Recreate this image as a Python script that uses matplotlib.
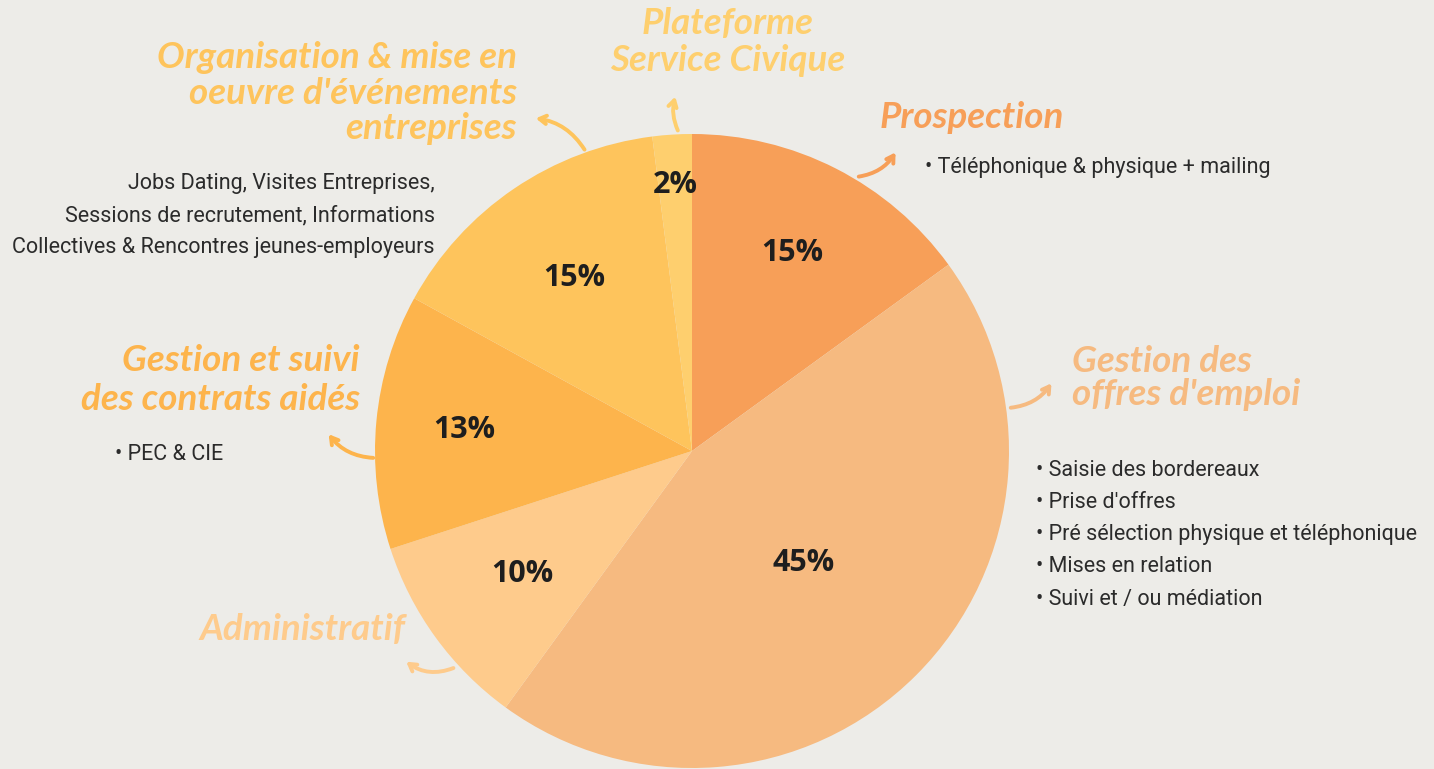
import numpy as np
import matplotlib.pyplot as plt

W, H = 1434, 769

# slices clockwise from 12 o'clock
labels = ['Prospection', "Gestion des offres d'emploi", 'Administratif',
          'Gestion et suivi des contrats aidés',
          "Organisation & mise en oeuvre d'événements entreprises",
          'Plateforme Service Civique']
values = [15, 45, 10, 13, 15, 2]
colors = ['#F79F58', '#F6BA80', '#FECB8C', '#FDB44C', '#FEC45C', '#FECF6E']
pct_dist = [0.70, 0.50, 0.66, 0.72, 0.66, 0.84]

offres_items = ['Saisie des bordereaux', "Prise d'offres",
                'Pré sélection physique et téléphonique',
                'Mises en relation', 'Suivi et / ou médiation']
events_text = ['Jobs Dating, Visites Entreprises,',
               'Sessions de recrutement, Informations',
               'Collectives & Rencontres jeunes-employeurs']

bg = '#EDECE8'
ink = '#2B2B2B'
script = dict(family='Lato', style='italic', weight='bold', fontsize=26.5)
body = dict(family='Roboto', fontsize=15.5, color=ink)


def Y(p):
    return H - p


fig = plt.figure(figsize=(W / 100, H / 100), dpi=100, facecolor=bg)
ax = fig.add_axes([0, 0, 1, 1])
ax.set_facecolor(bg)

cx, cy, r = 692, Y(451), 317
wedges, _ = ax.pie(values, colors=colors, startangle=90, counterclock=False,
                   center=(cx, cy), radius=r, wedgeprops=dict(linewidth=0))

for w, v, d in zip(wedges, values, pct_dist):
    a = np.deg2rad((w.theta1 + w.theta2) / 2)
    ax.text(cx + d * r * np.cos(a), cy + d * r * np.sin(a), f'{v}%',
            ha='center', va='center', fontsize=22, weight='bold',
            family='Open Sans', color='#1E1E1E')

ax.set_xlim(0, W)
ax.set_ylim(0, H)
ax.set_aspect('equal')
ax.axis('off')


def arrow(p0, p1, color, rad):
    ax.annotate('', xy=(p1[0], Y(p1[1])), xytext=(p0[0], Y(p0[1])),
                arrowprops=dict(arrowstyle='->,head_length=0.5,head_width=0.3',
                                color=color, lw=2.8,
                                connectionstyle=f'arc3,rad={rad}'))


# Plateforme
ax.text(728, Y(42), 'Plateforme\nService Civique', ha='center', va='center',
        color=colors[5], linespacing=1.12, **script)
arrow((679, 133), (676, 94), colors[5], -0.2)

# Prospection
ax.text(880, Y(118), 'Prospection', ha='left', va='center', color=colors[0], **script)
arrow((856, 177), (897, 150), colors[0], 0.25)
ax.text(925, Y(167), '• Téléphonique & physique + mailing', ha='left', va='center', **body)

# Gestion des offres
ax.text(1072, Y(378), "Gestion des\noffres d'emploi", ha='left', va='center',
        color=colors[1], linespacing=1.02, **script)
arrow((1008, 408), (1053, 381), colors[1], 0.25)
for i, s in enumerate(offres_items):
    ax.text(1036, Y(470 + 32.3 * i), '• ' + s, ha='left', va='center', **body)

# Organisation
ax.text(517, Y(93), "Organisation & mise en\noeuvre d'événements\nentreprises",
        ha='right', va='center', color=colors[4], linespacing=1.08, **script)
arrow((586, 152), (533, 118), colors[4], 0.25)
for i, s in enumerate(events_text):
    ax.text(435, Y(184 + 31.5 * i), s, ha='right', va='center', **body)

# Contrats aidés
ax.text(360, Y(380), 'Gestion et suivi\ndes contrats aidés', ha='right', va='center',
        color=colors[3], linespacing=1.22, **script)
arrow((376, 458), (327, 432), colors[3], -0.25)
ax.text(115, Y(454), '• PEC & CIE', ha='left', va='center', **body)

# Administratif
ax.text(302, Y(630), 'Administratif', ha='center', va='center', color=colors[2], **script)
arrow((456, 667), (404, 660), colors[2], -0.3)

fig.savefig('out.png', dpi=100, facecolor=bg)
